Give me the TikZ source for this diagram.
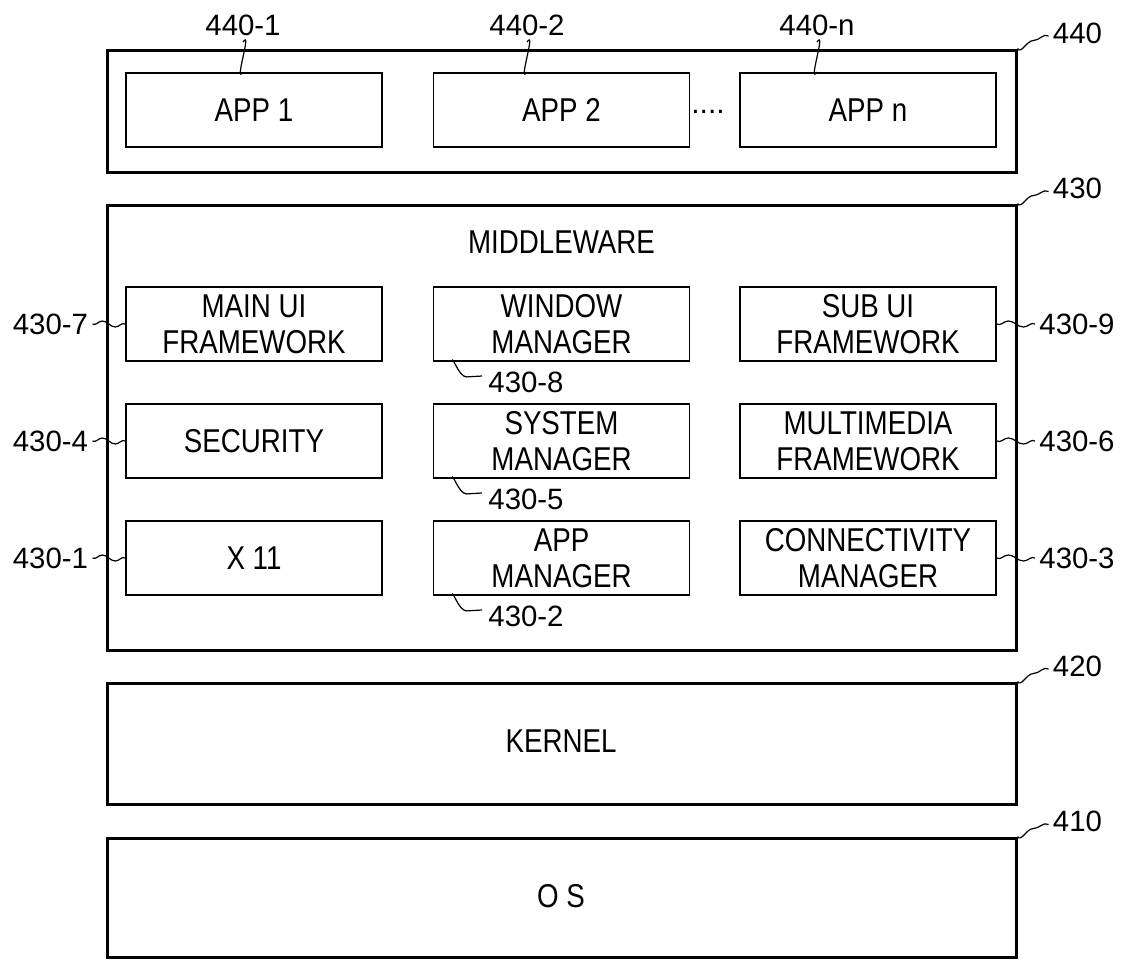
\documentclass[tikz,border=0pt]{standalone}
\usepackage{fontspec}
\setmainfont{Liberation Sans}
\newfontfamily\boxfont[FakeStretch=0.84]{Liberation Sans}
\usetikzlibrary{calc}
\tikzset{
  boxtext/.style={font=\boxfont\fontsize{16.5}{18}\selectfont},
  outer/.style={draw, line width=1.5pt, minimum width=454.5pt, inner sep=0pt, boxtext},
  inner/.style={draw, line width=0.9pt, minimum width=128pt, minimum height=37pt, inner sep=1pt, align=center, boxtext},
  lab/.style={font=\fontsize{14.7}{17}\selectfont, inner sep=2pt},
  leader/.style={line width=0.6pt},
}
\begin{document}
\begin{tikzpicture}[x=0.5pt,y=-0.5pt]
\useasboundingbox (0,0) rectangle (1124,960);
% outer layers
\node[outer, minimum height=61pt] (o440) at (561.5,111) {};
\node[outer, minimum height=222.5pt] (o430) at (561.5,427.5) {};
\node[outer, minimum height=60.5pt] (o420) at (561.5,743.5) {};
\node[outer, minimum height=59.5pt] (o410) at (561.5,897.5) {};
\node[boxtext] (kernel) at (561,741) {KERNEL};
\node[boxtext] (os) at (561,896) {O S};
\node[boxtext] (mw) at (561.5,242) {MIDDLEWARE};
% apps
\node[inner] (app1) at (254,110) {APP 1};
\node[inner] (app2) at (561.5,110) {APP 2};
\node[inner] (appn) at (868,110) {APP n};
\node[font=\fontsize{15}{18}\selectfont, inner sep=0pt] (dots) at (708,112) {....};
% middleware boxes
\node[inner] (b7) at (254,324) {MAIN UI\\FRAMEWORK};
\node[inner] (b8) at (561.5,324) {WINDOW\\MANAGER};
\node[inner] (b9) at (868,324) {SUB UI\\FRAMEWORK};
\node[inner] (b4) at (254,441) {SECURITY};
\node[inner] (b5) at (561.5,441) {SYSTEM\\MANAGER};
\node[inner] (b6) at (868,441) {MULTIMEDIA\\FRAMEWORK};
\node[inner] (b1) at (254,558) {X 11};
\node[inner] (b2) at (561.5,558) {APP\\MANAGER};
\node[inner] (b3) at (868,558) {CONNECTIVITY\\MANAGER};
% labels
\node[lab] (l4401) at (243,25.5) {440-1};
\node[lab] (l4402) at (527,25.5) {440-2};
\node[lab] (l440n) at (817,25.5) {440-n};
\node[lab] (l440) at (1077.5,33) {440};
\node[lab] (l430) at (1077.5,188.5) {430};
\node[lab] (l420) at (1077.5,666) {420};
\node[lab] (l410) at (1077.5,821.5) {410};
\node[lab] (l7) at (50.5,324) {430-7};
\node[lab] (l4) at (50.5,441) {430-4};
\node[lab] (l1) at (50.5,558) {430-1};
\node[lab] (l9) at (1077,324) {430-9};
\node[lab] (l6) at (1077,441) {430-6};
\node[lab] (l3) at (1077,558) {430-3};
\node[lab,anchor=west] (l8) at (484,382) {430-8};
\node[lab,anchor=west] (l5) at (484,499) {430-5};
\node[lab,anchor=west] (l2) at (484,616) {430-2};
% vertical leaders for apps
\foreach \l/\b/\x in {l4401/app1/243, l4402/app2/527, l440n/appn/817}{
  \draw[leader] (\x,42) to[out=55,in=-125,looseness=1.4] (\b.north -| \x,0);
}
% corner leaders
\foreach \b/\l in {o440/l440, o430/l430, o420/l420, o410/l410}{
  \draw[leader] (\b.north east) to[out=-60,in=180] ($(\b.north east)+(16,-8)$)
     to[out=0,in=150] ($(\l.west)+(0,3)$);
}
% left waves
\foreach \l/\b in {l7/b7, l4/b4, l1/b1}{
  \draw[leader] (\l.east) to[out=-30,in=180] ($(\l.east)!0.3!(\b.west)+(0,-3)$)
     to[out=0,in=180] ($(\l.east)!0.7!(\b.west)+(0,3)$) to[out=0,in=150] (\b.west);
}
% right waves
\foreach \b/\l in {b9/l9, b6/l6, b3/l3}{
  \draw[leader] (\b.east) to[out=-30,in=180] ($(\b.east)!0.3!(\l.west)+(0,-3)$)
     to[out=0,in=180] ($(\b.east)!0.7!(\l.west)+(0,3)$) to[out=0,in=150] (\l.west);
}
% hooks below middle column
\foreach \b/\l in {b8/l8, b5/l5, b2/l2}{
  \draw[leader] ($(\b.south west)+(20,0)$) to[out=95,in=180] ($(\b.south west)+(34,15)$) -- ($(\l.west)+(-2,-6)$);
}
\end{tikzpicture}
\end{document}
